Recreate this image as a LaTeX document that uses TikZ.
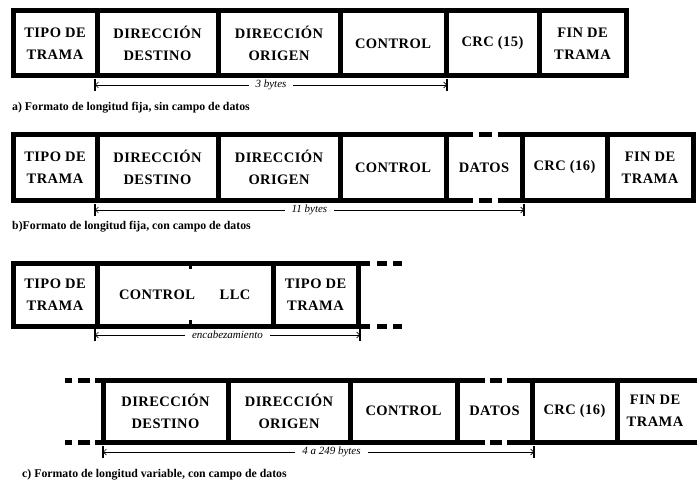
\documentclass[tikz,border=0pt]{standalone}
\usepackage{fontspec}
\usetikzlibrary{arrows.meta}
\newfontfamily\cellfont[LetterSpace=3]{Liberation Serif}
\newfontfamily\capfont{Liberation Serif}

\tikzset{
  frame/.style={line width=5pt, line join=miter},
  cell/.style={align=center, font=\cellfont\bfseries\fontsize{14.5}{22}\selectfont},
  dim/.style={line width=0.7pt, {Straight Barb[length=3pt]}-{Straight Barb[length=3pt]}},
  dimtext/.style={fill=white, inner xsep=7pt, inner ysep=1pt, font=\capfont\itshape\fontsize{11}{12}\selectfont},
  tick/.style={line width=1.5pt},
  caption/.style={anchor=west, inner sep=0pt, font=\capfont\bfseries\fontsize{11.8}{13}\selectfont},
}

\begin{document}
\begin{tikzpicture}[x=1pt,y=-1pt]
\useasboundingbox (0,0) rectangle (697,487);

% a) fixed length, no data
\draw[frame] (13,11) rectangle (626,76);
\foreach \x in {97,218,340,446,539} \draw[frame] (\x,11) -- (\x,76);
\node[cell] (a-tipo) at (55,43.5) {TIPO DE\\TRAMA};
\node[cell] (a-dest) at (157.5,43.5) {DIRECCIÓN\\DESTINO};
\node[cell] (a-orig) at (279,43.5) {DIRECCIÓN\\ORIGEN};
\node[cell] (a-ctrl) at (393,43.5) {CONTROL};
\node[cell] (a-crc) at (492.5,43.5) {CRC (15)};
\node[cell] (a-fin) at (582.5,43.5) {FIN DE\\TRAMA};

\coordinate (a-l) at (95,85);
\coordinate (a-r) at (447,85);
\draw[tick] ([yshift=-6pt]a-l) -- ([yshift=6pt]a-l);
\draw[tick] ([yshift=-6pt]a-r) -- ([yshift=6pt]a-r);
\draw[dim] (a-l) -- node[dimtext] (a-len) {3 bytes} (a-r);
\node[caption] (a-cap) at (12,108) {a) Formato de longitud fija, sin campo de datos};

% b) fixed length, with data
\draw[frame] (473,135) -- (13,135) -- (13,200) -- (473,200);
\draw[frame] (479,135) -- (492,135) (479,200) -- (492,200);
\draw[frame] (498,135) -- (693,135) -- (693,200) -- (498,200);
\foreach \x in {97,218,340,446,522,607} \draw[frame] (\x,135) -- (\x,200);
\node[cell] (b-tipo) at (55,167.5) {TIPO DE\\TRAMA};
\node[cell] (b-dest) at (157.5,167.5) {DIRECCIÓN\\DESTINO};
\node[cell] (b-orig) at (279,167.5) {DIRECCIÓN\\ORIGEN};
\node[cell] (b-ctrl) at (393,167.5) {CONTROL};
\node[cell] (b-datos) at (484,167.5) {DATOS};
\node[cell] (b-crc) at (564.5,167.5) {CRC (16)};
\node[cell] (b-fin) at (650,167.5) {FIN DE\\TRAMA};

\coordinate (b-l) at (95,210);
\coordinate (b-r) at (524,210);
\draw[tick] ([yshift=-6pt]b-l) -- ([yshift=6pt]b-l);
\draw[tick] ([yshift=-6pt]b-r) -- ([yshift=6pt]b-r);
\draw[dim] (b-l) -- node[dimtext] (b-len) {11 bytes} (b-r);
\node[caption] (b-cap) at (12,227) {b)Formato de longitud fija, con campo de datos};

% c) variable length, header
\draw[frame] (370,263) -- (13,263) -- (13,326) -- (370,326);
\draw[frame] (377,263) -- (387,263) (393,263) -- (402,263);
\draw[frame] (377,326) -- (387,326) (393,326) -- (402,326);
\foreach \x in {97,273,358} \draw[frame] (\x,263) -- (\x,326);
\draw[line width=3pt] (190,263) -- (190,269) (190,326) -- (190,320);
\node[cell] (c-tipo) at (55,294.5) {TIPO DE\\TRAMA};
\node[cell] (c-ctrl) at (157,294.5) {CONTROL};
\node[cell] (c-llc) at (235,294.5) {LLC};
\node[cell] (c-tipo2) at (315.5,294.5) {TIPO DE\\TRAMA};

\coordinate (c-l) at (95,335);
\coordinate (c-r) at (360,335);
\draw[tick] ([yshift=-6pt]c-l) -- ([yshift=6pt]c-l);
\draw[tick] ([yshift=-6pt]c-r) -- ([yshift=6pt]c-r);
\draw[dim] (c-l) -- node[dimtext] (c-len) {encabezamiento} (c-r);

% c) variable length, rest of frame
\draw[frame] (65,380) -- (72,380) (78,380) -- (90,380) (95,380) -- (485,380);
\draw[frame] (65,442) -- (72,442) (78,442) -- (90,442) (95,442) -- (485,442);
\draw[frame] (490,380) -- (502,380) (507,380) -- (697,380);
\draw[frame] (490,442) -- (502,442) (507,442) -- (697,442);
\foreach \x in {103.5,228,350,457,532,617} \draw[frame] (\x,380) -- (\x,442);
\node[cell] (d-dest) at (165.5,411) {DIRECCIÓN\\DESTINO};
\node[cell] (d-orig) at (289,411) {DIRECCIÓN\\ORIGEN};
\node[cell] (d-ctrl) at (403.5,411) {CONTROL};
\node[cell] (d-datos) at (494.5,411) {DATOS};
\node[cell] (d-crc) at (574.5,411) {CRC (16)};
\node[cell] (d-fin) at (655,411) {FIN DE\\TRAMA};

\coordinate (d-l) at (103,452);
\coordinate (d-r) at (534,452);
\draw[tick] ([yshift=-6pt]d-l) -- ([yshift=6pt]d-l);
\draw[tick] ([yshift=-6pt]d-r) -- ([yshift=6pt]d-r);
\draw[dim] (d-l) -- node[dimtext, pos=0.53] (d-len) {4 a 249 bytes} (d-r);
\node[caption] (c-cap) at (22,475) {c) Formato de longitud variable, con campo de datos};
\end{tikzpicture}
\end{document}
